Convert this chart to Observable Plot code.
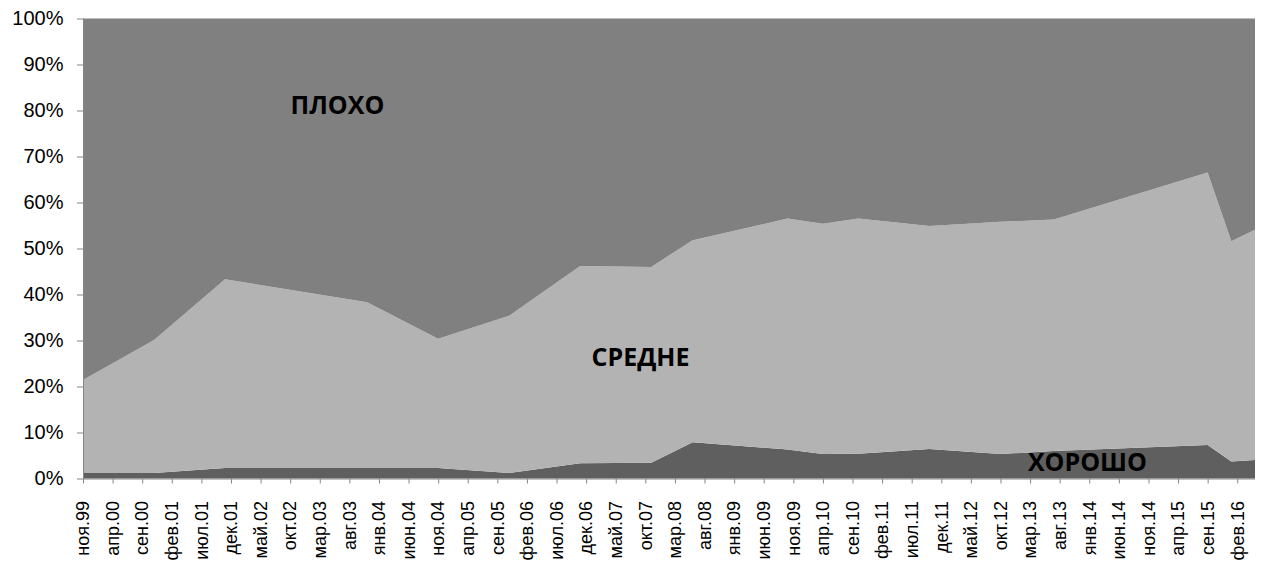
<!DOCTYPE html>
<html><head><meta charset="utf-8">
<script src="https://cdn.jsdelivr.net/npm/d3@7"></script>
<script src="https://cdn.jsdelivr.net/npm/@observablehq/plot@0.6"></script>
<style>body{margin:0;background:#fff}#chart svg{display:block}</style>
</head><body><div id="chart"></div>
<script>
// Survey dates (year-month)
const surveyDates = ["1999-11","2000-11","2001-11","2003-11","2004-11","2005-11","2006-11","2007-11","2008-06","2009-10","2010-04","2010-10","2011-10","2012-10","2013-07","2015-09","2016-01","2016-05"];
// Shares, %
const good    = [1.2, 1.2, 2.3, 2.3, 2.3, 1.2, 3.3, 3.4, 7.9, 6.3, 5.3, 5.4, 6.4, 5.3, 6.0, 7.3, 3.7, 4.0];
const average = [20.2, 28.9, 41.0, 36.0, 28.1, 34.2, 42.9, 42.6, 43.9, 50.2, 50.1, 51.1, 48.5, 50.5, 50.3, 59.2, 47.9, 50.1];
const bad     = [78.6, 69.9, 56.7, 61.7, 69.6, 64.6, 53.8, 54.0, 48.2, 43.5, 44.6, 43.5, 45.1, 44.2, 43.7, 33.5, 48.4, 45.9];
const seriesNames = ["ХОРОШО", "СРЕДНЕ", "ПЛОХО"];
const tickLabels = ["ноя.99","апр.00","сен.00","фев.01","июл.01","дек.01","май.02","окт.02","мар.03","авг.03","янв.04","июн.04","ноя.04","апр.05","сен.05","фев.06","июл.06","дек.06","май.07","окт.07","мар.08","авг.08","янв.09","июн.09","ноя.09","апр.10","сен.10","фев.11","июл.11","дек.11","май.12","окт.12","мар.13","авг.13","янв.14","июн.14","ноя.14","апр.15","сен.15","фев.16"];

const monthIndex = s => { const [y, m] = s.split("-").map(Number); return (y - 1999) * 12 + (m - 11); };
const seriesValues = [good, average, bad];
const rows = [];
surveyDates.forEach((d, i) => {
  seriesNames.forEach((name, k) => rows.push({m: monthIndex(d), series: name, value: seriesValues[k][i]}));
});
const tickPositions = tickLabels.map((_, i) => i * 5);

const axisGray = "#868686";
const chart = Plot.plot({
  width: 1261,
  height: 565,
  marginLeft: 83,
  marginRight: 6,
  marginTop: 18.5,
  marginBottom: 86.5,
  style: {fontFamily: "'Liberation Sans', Arial, sans-serif", background: "#fff"},
  x: {type: "linear", domain: [0, 198], axis: null},
  y: {domain: [0, 100], axis: null},
  color: {domain: seriesNames, range: ["#5f5f5f", "#b3b3b3", "#808080"]},
  marks: [
    Plot.areaY(rows, {x: "m", y: "value", z: "series", fill: "series", order: seriesNames}),
    Plot.ruleX([0], {stroke: axisGray}),
    Plot.ruleY([0], {stroke: axisGray}),
    Plot.axisY({ticks: d3.range(0, 101, 10), tickFormat: d => d + "%", tickSize: 6, tickPadding: 14, fontSize: 20, stroke: axisGray, fill: "#000", label: null}),
    Plot.axisX({ticks: tickPositions, tickFormat: d => tickLabels[Math.round(d / 5)], tickRotate: -90, tickSize: 5, tickPadding: 17, fontSize: 18, stroke: axisGray, fill: "#000", label: null}),
    Plot.text(["ПЛОХО"], {x: [42.9], y: [81.1], text: d => d, fontFamily: "'Open Sans'", fontWeight: "bold", fontSize: 25, fill: "#000"}),
    Plot.text(["СРЕДНЕ"], {x: [94.1], y: [26.4], text: d => d, fontFamily: "'Open Sans'", fontWeight: "bold", fontSize: 25, fill: "#000"}),
    Plot.text(["ХОРОШО"], {x: [169.6], y: [3.4], text: d => d, fontFamily: "'Open Sans'", fontWeight: "bold", fontSize: 25, fill: "#000"})
  ]
});
document.getElementById("chart").appendChild(chart);
</script>
</body></html>
